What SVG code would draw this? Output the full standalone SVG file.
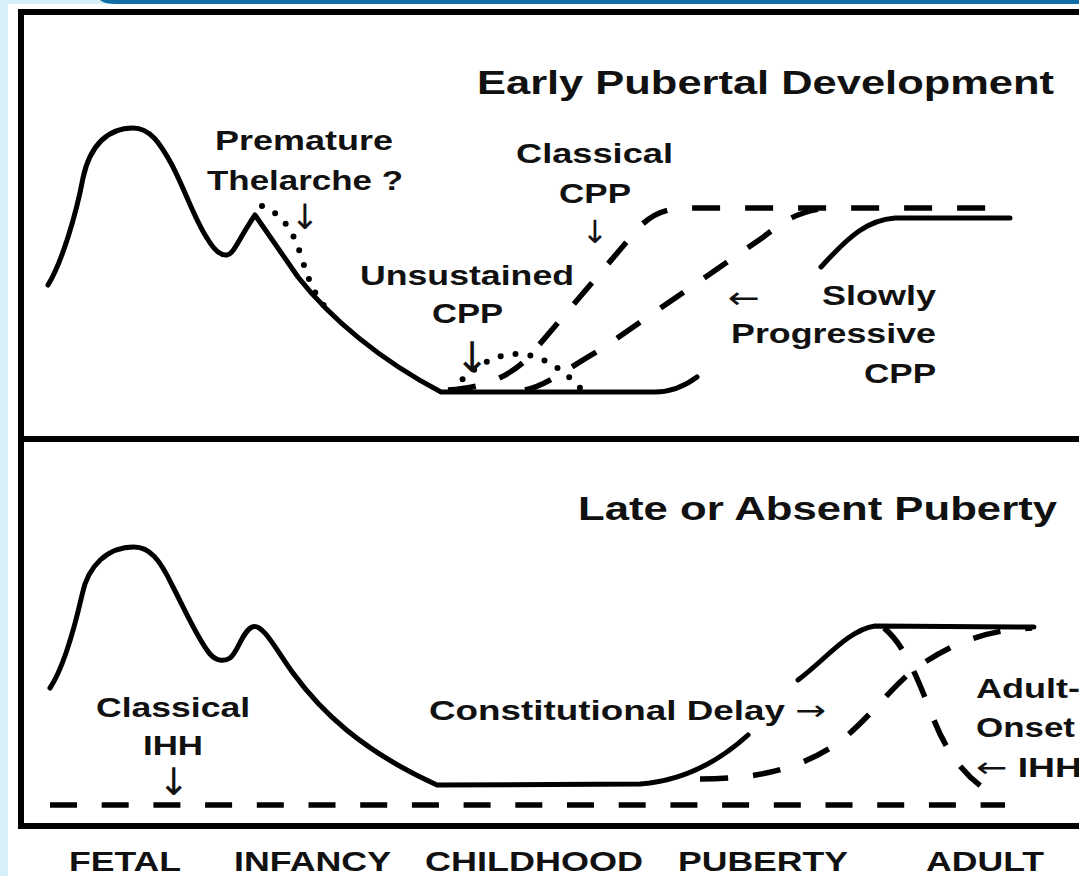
<svg xmlns="http://www.w3.org/2000/svg" width="1079" height="876" viewBox="0 0 1079 876">
<style>
  .t { font-family: "Liberation Sans", Arial, sans-serif; font-weight: bold; fill: #111; }
  .lab { font-size: 28px; }
  .ttl { font-size: 34px; }
  .ax { font-size: 28px; }
  .ar { font-family: "DejaVu Sans", sans-serif; font-weight: normal; fill: #111; }
  .solid { fill: none; stroke: #000; stroke-width: 5; stroke-linecap: round; stroke-linejoin: round; }
  .dash { fill: none; stroke: #000; stroke-width: 5.5; stroke-dasharray: 28 25; }
  .dash2 { fill: none; stroke: #000; stroke-width: 5.5; stroke-dasharray: 27 24.7; }
  .dot { fill: none; stroke: #000; stroke-width: 6; stroke-dasharray: 0 15; stroke-linecap: round; }
  .frame { fill: none; stroke: #000; stroke-width: 6; }
</style>
<rect x="0" y="0" width="1079" height="876" fill="#ffffff"/>
<rect x="0" y="0" width="8" height="876" fill="#d7f0f7"/>
<rect x="0" y="0" width="110" height="4" fill="#d7f0f7"/>
<path d="M 100 0 Q 104 4 116 4 L 1079 4 L 1079 0 Z" fill="#0f6ea6"/>

<g id="frame">
  <rect class="frame" x="21" y="12" width="1120" height="814"/>
  <line class="frame" x1="21" y1="439" x2="1079" y2="439"/>
</g>

<g id="panel-early">
  <text class="t ttl" x="477" y="94" textLength="577" lengthAdjust="spacingAndGlyphs">Early Pubertal Development</text>
  <g id="curves-early">
    <path class="solid" d="M 48 285 C 62 262, 76 215, 83 178 C 90 145, 108 128, 133 128 C 150 128, 160 143, 172 165 C 185 190, 195 220, 207 238 C 214 250, 220 256, 227 255 C 234 254, 238 240, 255 215 L 298 277 C 330 318, 380 360, 441 392 L 655 392 C 670 392, 685 386, 697 377"/>
    <path class="dot" d="M 262 206 C 285 215, 295 235, 303 262 C 310 285, 318 300, 328 310"/>
    <path class="dot" d="M 452 390 Q 517 318 582 390"/>
    <path class="dash" d="M 448 390 C 480 388, 505 380, 528 358 L 630 238 C 648 215, 662 208, 690 208 L 1000 208"/>
    <path class="dash" d="M 525 390 C 548 385, 568 368, 600 350 L 762 238 C 785 220, 800 210, 830 208"/>
    <path class="solid" d="M 821 267 C 850 235, 868 220, 895 218 L 1010 218"/>
  </g>
  <g id="label-premature">
    <text class="t lab" x="215" y="150" textLength="178" lengthAdjust="spacingAndGlyphs">Premature</text>
    <text class="t lab" x="207" y="190" textLength="196" lengthAdjust="spacingAndGlyphs">Thelarche ?</text>
    <text class="ar" x="305" y="229" font-size="35" text-anchor="middle">↓</text>
  </g>
  <g id="label-classical-cpp">
    <text class="t lab" x="516" y="163" textLength="157" lengthAdjust="spacingAndGlyphs">Classical</text>
    <text class="t lab" x="559" y="203" textLength="72" lengthAdjust="spacingAndGlyphs">CPP</text>
    <text class="ar" x="595" y="243" font-size="32" text-anchor="middle">↓</text>
  </g>
  <g id="label-unsustained">
    <text class="t lab" x="360" y="285" textLength="214" lengthAdjust="spacingAndGlyphs">Unsustained</text>
    <text class="t lab" x="432" y="323" textLength="71" lengthAdjust="spacingAndGlyphs">CPP</text>
    <text class="ar" x="472" y="372" font-size="42" text-anchor="middle">↓</text>
  </g>
  <g id="label-slowly">
    <text class="ar" x="728" y="308" font-size="30" textLength="32" lengthAdjust="spacingAndGlyphs">←</text>
    <text class="t lab" x="822" y="305" textLength="114" lengthAdjust="spacingAndGlyphs">Slowly</text>
    <text class="t lab" x="731" y="343" textLength="205" lengthAdjust="spacingAndGlyphs">Progressive</text>
    <text class="t lab" x="864" y="383" textLength="72" lengthAdjust="spacingAndGlyphs">CPP</text>
  </g>
</g>

<g id="panel-late">
  <text class="t ttl" x="578" y="520" textLength="479" lengthAdjust="spacingAndGlyphs">Late or Absent Puberty</text>
  <g id="curves-late">
    <path class="solid" d="M 50 688 C 62 670, 74 630, 82 595 C 88 565, 108 547, 134 547 C 150 547, 160 560, 172 585 C 185 610, 198 640, 210 654 C 216 661, 224 662, 230 658 C 238 652, 242 632, 252 627 C 262 622, 275 648, 293 673 C 320 710, 360 750, 437 785 L 640 784 C 680 781, 715 765, 748 735"/>
    <path class="solid" d="M 798 680 C 825 660, 848 630, 875 626 L 1034 627"/>
    <path class="dash2" d="M 50 805 L 1005 805"/>
    <path class="dash" d="M 700 779 C 760 779, 800 768, 835 745 C 870 720, 895 680, 925 662 C 960 640, 990 630, 1032 628"/>
    <path class="dash" d="M 884 628 C 905 645, 918 680, 932 715 C 945 750, 965 780, 998 797"/>
  </g>
  <g id="label-classical-ihh">
    <text class="t lab" x="96" y="717" textLength="154" lengthAdjust="spacingAndGlyphs">Classical</text>
    <text class="t lab" x="143" y="755" textLength="60" lengthAdjust="spacingAndGlyphs">IHH</text>
    <text class="ar" x="174" y="795" font-size="38" text-anchor="middle">↓</text>
  </g>
  <g id="label-constitutional">
    <text class="t lab" x="429" y="720" textLength="397" lengthAdjust="spacingAndGlyphs">Constitutional Delay <tspan class="ar">→</tspan></text>
  </g>
  <g id="label-adult-onset">
    <text class="t lab" x="976" y="698" textLength="104" lengthAdjust="spacingAndGlyphs">Adult-</text>
    <text class="t lab" x="976" y="737" textLength="99" lengthAdjust="spacingAndGlyphs">Onset</text>
    <text class="t lab" x="976" y="777" textLength="106" lengthAdjust="spacingAndGlyphs"><tspan class="ar">←</tspan> IHH</text>
  </g>
</g>

<g id="axis-labels">
  <text class="t ax" x="69" y="871" textLength="112" lengthAdjust="spacingAndGlyphs">FETAL</text>
  <text class="t ax" x="234" y="871" textLength="157" lengthAdjust="spacingAndGlyphs">INFANCY</text>
  <text class="t ax" x="425" y="871" textLength="218" lengthAdjust="spacingAndGlyphs">CHILDHOOD</text>
  <text class="t ax" x="678" y="871" textLength="170" lengthAdjust="spacingAndGlyphs">PUBERTY</text>
  <text class="t ax" x="926" y="871" textLength="118" lengthAdjust="spacingAndGlyphs">ADULT</text>
</g>
</svg>
